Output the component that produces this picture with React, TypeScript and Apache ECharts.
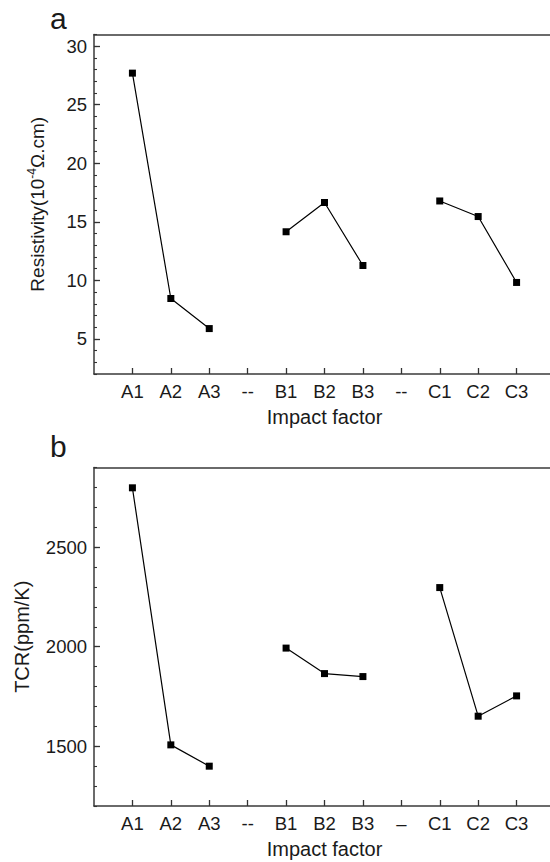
import React, { useEffect, useRef } from "react";
import * as echarts from "echarts";

const topCategories = ["A1", "A2", "A3", "--", "B1", "B2", "B3", "--", "C1", "C2", "C3"];
const bottomCategories = ["A1", "A2", "A3", "--", "B1", "B2", "B3", "–", "C1", "C2", "C3"];
const xPositions = [1, 2, 3, 4, 5, 6, 7, 8, 9, 10, 11];
const resistivity: (number | null)[] = [27.7, 8.45, 5.88, null, 14.15, 16.65, 11.27, null, 16.78, 15.45, 9.82];
const tcr: (number | null)[] = [2798, 1507, 1400, null, 1993, 1865, 1850, null, 2297, 1651, 1753];
const resMajor = [5, 10, 15, 20, 25, 30];
const resMinorStep = 1;
const tcrMajor = [1500, 2000, 2500];
const tcrMinorStep = 100;

const FONT = "Liberation Sans, Arial, sans-serif";
const AXIS = "#3a3a3a";
const TICK = "#333";
const TEXT = "#1a1a1a";

function toPairs(vals: (number | null)[]) {
  return vals.map((v, i) => [xPositions[i], v == null ? "-" : v]);
}

export default function App() {
  const ref = useRef<HTMLDivElement>(null);
  useEffect(() => {
    if (!ref.current) return;
    const chart = echarts.init(ref.current, undefined, { renderer: "svg" });
    const g0 = { left: 94, top: 34.5, width: 461, height: 339.5 };
    const g1 = { left: 94, top: 467.5, width: 461, height: 338.5 };
    const grids = [g0, g1, { ...g0 }, { ...g1 }];
    const xBottom = (gi: number, cats: string[]) => ({
      type: "value",
      gridIndex: gi,
      min: 0,
      max: 12,
      interval: 1,
      position: "bottom",
      name: "Impact factor",
      nameLocation: "middle",
      nameGap: 33,
      nameTextStyle: { fontFamily: FONT, fontSize: 20, color: TEXT },
      axisLine: { show: true, lineStyle: { color: AXIS, width: 1.5 } },
      axisTick: { show: true, inside: true, length: 6, lineStyle: { color: TICK, width: 1.3 } },
      axisLabel: {
        show: true,
        margin: 8,
        fontFamily: FONT,
        fontSize: 18.5,
        color: TEXT,
        showMinLabel: false,
        showMaxLabel: false,
        formatter: (v: number) => cats[Math.round(v) - 1] ?? "",
      },
      splitLine: { show: false },
    });
    const xTop = (gi: number) => ({
      type: "value",
      gridIndex: gi,
      min: 0,
      max: 12,
      position: "top",
      axisLine: { show: true, lineStyle: { color: AXIS, width: 1.5 } },
      axisTick: { show: false },
      axisLabel: { show: false },
      splitLine: { show: false },
    });
    const xHidden = (gi: number) => ({
      type: "value",
      gridIndex: gi,
      min: 0,
      max: 12,
      show: false,
    });
    const yMain = (gi: number, min: number, max: number, major: number[], name: any, gap: number, nameSize: number) => ({
      type: "value",
      gridIndex: gi,
      min,
      max,
      position: "left",
      name,
      nameLocation: "middle",
      nameGap: gap,
      nameTextStyle: {
        fontFamily: FONT,
        fontSize: nameSize,
        color: TEXT,
        rich: {
          n: { fontFamily: FONT, fontSize: nameSize, color: TEXT },
          sup: { fontFamily: FONT, fontSize: 12, color: TEXT, verticalAlign: "top", padding: [0, 0, 10, 0] },
        },
      },
      axisLine: { show: true, lineStyle: { color: AXIS, width: 1.5 } },
      axisTick: { show: true, inside: true, length: 6, customValues: major, lineStyle: { color: TICK, width: 1.3 } },
      axisLabel: {
        show: true,
        customValues: major,
        margin: 7,
        fontFamily: FONT,
        fontSize: 18.5,
        color: TEXT,
        formatter: (v: number) => String(v),
      },
      splitLine: { show: false },
    });
    const yMinor = (gi: number, min: number, max: number, step: number) => ({
      type: "value",
      gridIndex: gi,
      min,
      max,
      interval: step,
      position: "left",
      axisLine: { show: true, lineStyle: { color: "rgba(0,0,0,0)" } },
      axisTick: { show: true, inside: true, length: 3, lineStyle: { color: TICK, width: 1.1 } },
      axisLabel: { show: false },
      splitLine: { show: false },
    });
    const seriesStyle = {
      type: "line",
      symbol: "rect",
      symbolSize: 7,
      connectNulls: false,
      lineStyle: { color: "#000", width: 1.2 },
      itemStyle: { color: "#000" },
    };
    chart.setOption({
      animation: false,
      backgroundColor: "#fff",
      grid: grids,
      xAxis: [xBottom(0, topCategories), xTop(0), xBottom(1, bottomCategories), xTop(1), xHidden(2), xHidden(3)],
      yAxis: [
        yMain(0, 2, 31, resMajor, "{n|Resistivity(10}{sup|-4}{n|Ω.cm)}", 46, 19),
        yMain(1, 1200, 2900, tcrMajor, "TCR(ppm/K)", 62, 20),
        yMinor(2, 2, 31, resMinorStep),
        yMinor(3, 1200, 2900, tcrMinorStep),
      ],
      graphic: [
        { type: "text", left: 50, top: 3, style: { text: "a", fontFamily: FONT, fontSize: 30, fill: TEXT } },
        { type: "text", left: 50, top: 431, style: { text: "b", fontFamily: FONT, fontSize: 30, fill: TEXT } },
      ],
      series: [
        { ...seriesStyle, xAxisIndex: 0, yAxisIndex: 0, data: toPairs(resistivity) },
        { ...seriesStyle, xAxisIndex: 2, yAxisIndex: 1, data: toPairs(tcr) },
      ],
    });
    return () => chart.dispose();
  }, []);
  return (
    <div style={{ position: "fixed", left: 0, top: 0, width: 550, height: 862, overflow: "hidden", background: "#fff" }}>
      <div ref={ref} style={{ width: 600, height: 862 }} />
    </div>
  );
}
